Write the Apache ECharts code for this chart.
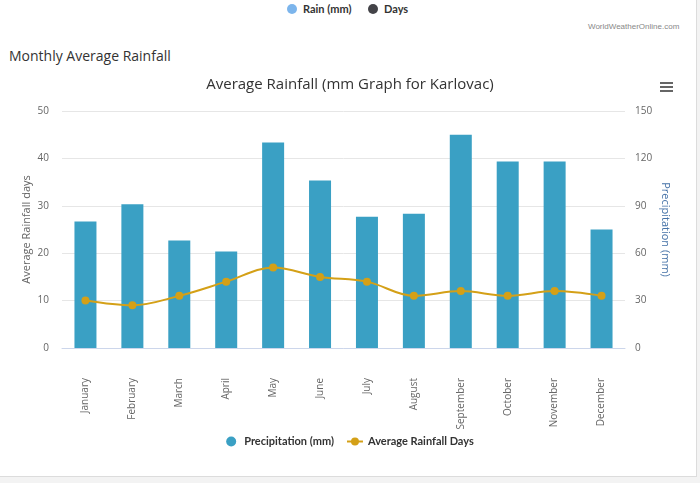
<!DOCTYPE html>
<html>
<head>
<meta charset="utf-8">
<script src="https://cdn.jsdelivr.net/npm/echarts@6/dist/echarts.min.js"></script>
<style>
  html, body { margin:0; padding:0; width:700px; height:483px; background:#f3f3f3; overflow:hidden; }
  #card { position:absolute; left:0; top:0; width:696px; height:476px; background:#fff; border-right:1px solid #dcdcdc; border-bottom:1px solid #dcdcdc; }
  #chart { position:absolute; left:0; top:0; width:700px; height:483px; }
  .txt { position:absolute; font-family:"Open Sans", sans-serif; white-space:nowrap; }
  .lg { font-family:"Lato", sans-serif; font-size:11px; font-weight:bold; color:#333; }
  .dot { position:absolute; width:10px; height:10px; border-radius:50%; }
  .bar { position:absolute; width:13px; height:2px; background:#666; }
</style>
</head>
<body>
<div id="card"></div>
<div class="dot" style="left:287px;top:4px;background:#7cb5ec"></div>
<div class="txt lg" style="left:303px;top:2px">Rain (mm)</div>
<div class="dot" style="left:368px;top:4px;background:#434348"></div>
<div class="txt lg" style="left:384px;top:2px">Days</div>
<div class="txt" style="left:588px;top:22px;font-family:'Liberation Sans',sans-serif;font-size:8px;color:#888">WorldWeatherOnline.com</div>
<div class="txt" style="left:9px;top:46px;font-size:14px;color:#333">Monthly Average Rainfall</div>
<div class="bar" style="left:660px;top:82px"></div>
<div class="bar" style="left:660px;top:86px"></div>
<div class="bar" style="left:660px;top:90px"></div>
<div id="chart"></div>
<script>
const months = ["January","February","March","April","May","June","July","August","September","October","November","December"];
const precipitation = [80, 91, 68, 61, 130, 106, 83, 85, 135, 118, 118, 75];
const rainDays = [10, 9, 11, 14, 17, 15, 14, 11, 12, 11, 12, 11];
const daysTicks = {min:0, max:50, interval:10};
const mmTicks = {min:0, max:150, interval:30};

const chart = echarts.init(document.getElementById('chart'), null, {renderer:'canvas'});
const font = '"Open Sans", sans-serif';
chart.setOption({
  backgroundColor: 'transparent',
  animation: false,
  title: {
    text: 'Average Rainfall (mm Graph for Karlovac)',
    left: 'center', top: 72,
    textStyle: {fontFamily: font, fontSize: 15, fontWeight: 'normal', color: '#333'}
  },
  legend: {
    bottom: 31, left: 'center', itemGap: 12, itemWidth: 16, itemHeight: 10,
    textStyle: {fontFamily: '"Lato", sans-serif', fontSize: 11, fontWeight: 'bold', color: '#333'},
    data: [{name: 'Precipitation (mm)', icon: 'circle'}, {name: 'Average Rainfall Days'}]
  },
  grid: {left: 62, right: 75, top: 111, bottom: 135, containLabel: false},
  xAxis: {
    type: 'category', data: months,
    axisLine: {lineStyle: {color: '#ccd6eb'}},
    axisTick: {show: false},
    axisLabel: {rotate: 90, color: '#666', fontFamily: font, fontSize: 10, margin: 30}
  },
  yAxis: [
    {
      type: 'value', ...daysTicks,
      name: 'Average Rainfall days', nameLocation: 'middle', nameGap: 30, nameRotate: 90,
      nameMoveOverlap: false,
      nameTextStyle: {color: '#666', fontFamily: font, fontSize: 11},
      axisLabel: {color: '#666', fontFamily: font, fontSize: 10, margin: 13},
      splitLine: {lineStyle: {color: '#e6e6e6'}},
      axisLine: {show: false}, axisTick: {show: false}
    },
    {
      type: 'value', ...mmTicks, position: 'right',
      name: 'Precipitation (mm)', nameLocation: 'middle', nameGap: 35, nameRotate: -90,
      nameMoveOverlap: false,
      nameTextStyle: {color: '#4572a7', fontFamily: font, fontSize: 11},
      axisLabel: {color: '#666', fontFamily: font, fontSize: 10, margin: 10},
      splitLine: {show: false},
      axisLine: {show: false}, axisTick: {show: false}
    }
  ],
  series: [
    {
      name: 'Precipitation (mm)', type: 'bar', yAxisIndex: 1, data: precipitation,
      barWidth: 22, itemStyle: {color: '#3aa0c4'}
    },
    {
      name: 'Average Rainfall Days', type: 'line', yAxisIndex: 0, data: rainDays,
      smooth: 0.35, symbol: 'circle', symbolSize: 8,
      lineStyle: {color: '#d4a017', width: 2}, itemStyle: {color: '#d4a017'}
    }
  ]
});
</script>
</body>
</html>
